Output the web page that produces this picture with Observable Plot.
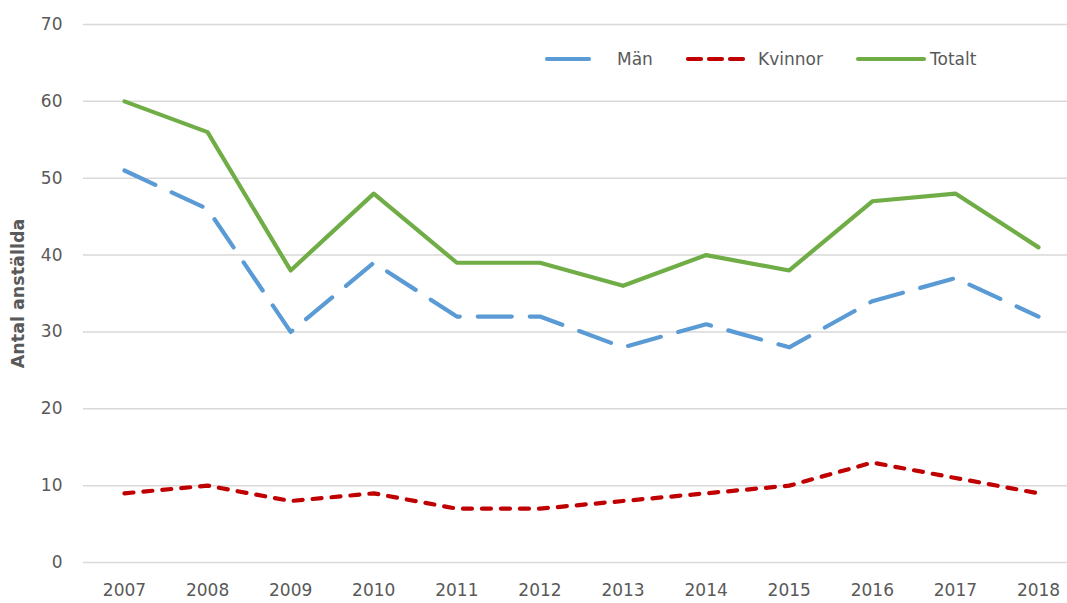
<!DOCTYPE html>
<html>
<head>
<meta charset="utf-8">
<script src="https://cdn.jsdelivr.net/npm/d3@7"></script>
<script src="https://cdn.jsdelivr.net/npm/@observablehq/plot@0.6"></script>
<style>
  html, body { margin: 0; padding: 0; background: #fff; }
  #wrap { position: relative; width: 1067px; height: 603px; font-family: "DejaVu Sans", sans-serif; }
  #legend { position: absolute; left: 0; top: 0; pointer-events: none; }
</style>
</head>
<body>
<div id="wrap"></div>
<script>
const years = [2007, 2008, 2009, 2010, 2011, 2012, 2013, 2014, 2015, 2016, 2017, 2018];
const man = [51, 46, 30, 39, 32, 32, 28, 31, 28, 34, 37, 32];
const kvinnor = [9, 10, 8, 9, 7, 7, 8, 9, 10, 13, 11, 9];
const totalt = [60, 56, 38, 48, 39, 39, 36, 40, 38, 47, 48, 41];
const yTicks = [0, 10, 20, 30, 40, 50, 60, 70];
const seriesNames = ["Män", "Kvinnor", "Totalt"];
const seriesColors = ["#5B9BD5", "#C00000", "#70AD47"];
const seriesDash = ["34,18", "9,10", null];
const yLabel = "Antal anställda";

const values = [man, kvinnor, totalt];
const data = [];
seriesNames.forEach((s, i) => years.forEach((y, j) => data.push({series: s, year: y, value: values[i][j]})));

const W = 1067, H = 603;
const marks = [
  Plot.ruleY(yTicks, {stroke: "#d9d9d9", strokeWidth: 1.5}),
  Plot.axisY(yTicks, {tickSize: 0, tickPadding: 21, fontSize: 17, fill: "#595959", label: null}),
  Plot.axisX(years, {tickSize: 0, tickPadding: 21, fontSize: 17, fill: "#595959", label: null, tickFormat: d => String(d)}),
];
seriesNames.forEach((s, i) => {
  marks.push(Plot.line(data.filter(d => d.series === s), {
    x: "year", y: "value", stroke: seriesColors[i], strokeWidth: 4.2,
    strokeDasharray: seriesDash[i] || undefined, strokeLinecap: "round", strokeLinejoin: "round"
  }));
});
marks.push(Plot.text([yLabel], {frameAnchor: "left", dx: -65, rotate: -90, fontSize: 17.5, fontWeight: "bold", fill: "#595959", text: d => d, textAnchor: "middle"}));

const chart = Plot.plot({
  width: W, height: H,
  marginLeft: 83, marginRight: 0, marginTop: 24, marginBottom: 41,
  style: {fontFamily: "DejaVu Sans, sans-serif", background: "#fff", overflow: "visible"},
  x: {type: "linear", domain: [2006.507, 2018.349], axis: null},
  y: {domain: [0, 70], axis: null},
  marks
});
document.getElementById("wrap").appendChild(chart);

// legend overlay inside plot area
const legendPos = [
  {x1: 547, x2: 589, tx: 617},
  {x1: 688, x2: 746, tx: 758},
  {x1: 858, x2: 924, tx: 930}
];
const ns = "http://www.w3.org/2000/svg";
const lg = document.createElementNS(ns, "svg");
lg.setAttribute("id", "legend");
lg.setAttribute("width", W);
lg.setAttribute("height", H);
seriesNames.forEach((s, i) => {
  const p = legendPos[i];
  const ln = document.createElementNS(ns, "line");
  ln.setAttribute("x1", p.x1); ln.setAttribute("x2", p.x2);
  ln.setAttribute("y1", 59); ln.setAttribute("y2", 59);
  ln.setAttribute("stroke", seriesColors[i]);
  ln.setAttribute("stroke-width", 4.2);
  ln.setAttribute("stroke-linecap", "round");
  if (i === 1) ln.setAttribute("stroke-dasharray", "13,8");
  lg.appendChild(ln);
  const t = document.createElementNS(ns, "text");
  t.setAttribute("x", p.tx); t.setAttribute("y", 59);
  t.setAttribute("dy", "0.35em");
  t.setAttribute("font-size", 17);
  t.setAttribute("fill", "#595959");
  t.setAttribute("font-family", "DejaVu Sans, sans-serif");
  t.textContent = s;
  lg.appendChild(t);
});
document.getElementById("wrap").appendChild(lg);
</script>
</body>
</html>
